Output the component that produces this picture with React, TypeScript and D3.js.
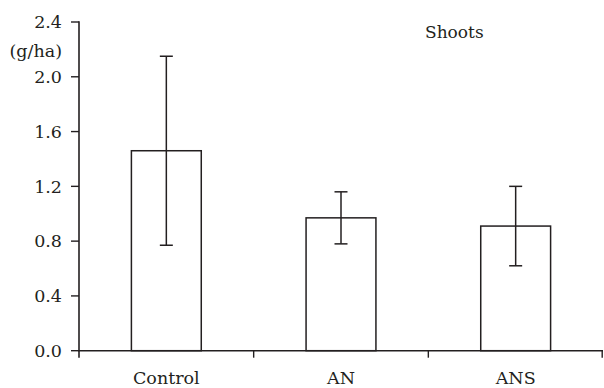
import React from "react";
import * as d3 from "d3";

const categories = ["Control", "AN", "ANS"];
const means = [1.46, 0.97, 0.91];
const errors = [0.69, 0.19, 0.29];
const yTicks = [0, 0.4, 0.8, 1.2, 1.6, 2.0, 2.4];
const unitLabel = "(g/ha)";
const panelTitle = "Shoots";

const W = 604;
const H = 388;
const left = 79;
const right = 603;
const top = 22;
const bottom = 350.7;
const ink = "#231f20";
const font = "'DejaVu Serif', serif";

export default function App() {
  const x = d3.scaleBand<string>().domain(categories).range([left, right]).paddingInner(0.6).paddingOuter(0.3);
  const xb = d3.scaleBand<string>().domain(categories).range([left, right]);
  const y = d3.scaleLinear().domain([0, 2.4]).range([bottom, top]);
  const bw = x.bandwidth();
  const capHalf = 6.5;
  const tickBoundaries = [left, ...categories.map((c) => (xb(c) as number) + xb.bandwidth())];

  return (
    <svg width={W} height={H} style={{ position: "absolute", left: 0, top: 0, background: "#fff" }}>
      {/* y axis */}
      <line x1={left} x2={left} y1={top - 0.8} y2={bottom + 7} stroke={ink} strokeWidth={1.6} />
      {yTicks.map((t) => (
        <g key={t}>
          <line x1={left - 8} x2={left} y1={y(t)} y2={y(t)} stroke={ink} strokeWidth={1.4} />
          <text x={62} y={y(t)} dy="0.36em" textAnchor="end" fontFamily={font} fontSize={17.5} fill={ink}>
            {t.toFixed(1)}
          </text>
        </g>
      ))}
      <text x={62} y={56.5} textAnchor="end" fontFamily={font} fontSize={17.5} fill={ink}>
        {unitLabel}
      </text>
      {/* bars */}
      {categories.map((c, i) => {
        const cx = (x(c) as number) + bw / 2;
        return (
          <g key={c}>
            <rect x={x(c)} y={y(means[i])} width={bw} height={bottom - y(means[i])} fill="#fff" stroke={ink} strokeWidth={1.5} />
            <line x1={cx} x2={cx} y1={y(means[i] + errors[i])} y2={y(means[i] - errors[i])} stroke={ink} strokeWidth={1.5} />
            <line x1={cx - capHalf} x2={cx + capHalf} y1={y(means[i] + errors[i])} y2={y(means[i] + errors[i])} stroke={ink} strokeWidth={1.5} />
            <line x1={cx - capHalf} x2={cx + capHalf} y1={y(means[i] - errors[i])} y2={y(means[i] - errors[i])} stroke={ink} strokeWidth={1.5} />
            <text x={cx} y={384} textAnchor="middle" fontFamily={font} fontSize={17.5} fill={ink}>
              {c}
            </text>
          </g>
        );
      })}
      {/* x axis */}
      <line x1={left - 0.8} x2={right} y1={bottom} y2={bottom} stroke={ink} strokeWidth={1.6} />
      {tickBoundaries.slice(1).map((tx, i) => (
        <line key={i} x1={tx - (i === 2 ? 0.8 : 0)} x2={tx - (i === 2 ? 0.8 : 0)} y1={bottom} y2={bottom + 7} stroke={ink} strokeWidth={1.4} />
      ))}
      <text x={425} y={38.3} fontFamily={font} fontSize={17} fill={ink}>
        {panelTitle}
      </text>
    </svg>
  );
}
